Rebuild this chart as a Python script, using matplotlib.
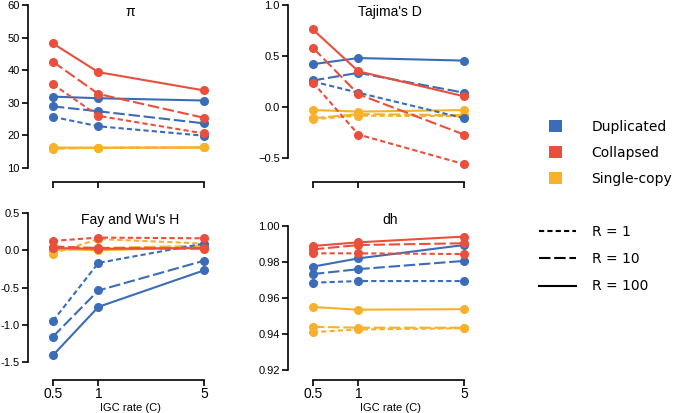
import numpy as np
import matplotlib
matplotlib.use('Agg')
import matplotlib.pyplot as plt
from matplotlib.patches import Patch
from matplotlib.lines import Line2D

plt.rcParams['font.family'] = ['Liberation Sans', 'DejaVu Sans']

igc_rate = [0.5, 1, 5]
r_values = [1, 10, 100]
groups = ['Duplicated', 'Collapsed', 'Single-copy']
colors = ['#3b6cb7', '#ea4f3b', '#f9b02a']
styles = [(0, (2.5, 1.5)), (0, (5.5, 1.8)), '-']

# each list: rows are R = 1, 10, 100 ; columns follow igc_rate
pi_dup = [[25.7, 22.8, 19.9], [28.9, 27.4, 23.7], [31.9, 31.4, 30.7]]
pi_col = [[35.7, 26.0, 20.6], [42.6, 32.7, 25.4], [48.2, 39.4, 33.8]]
pi_single = [[16.1, 16.2, 16.3], [15.9, 16.2, 16.3], [16.3, 16.2, 16.3]]

tajima_dup = [[0.25, 0.14, -0.11], [0.26, 0.335, 0.14], [0.42, 0.48, 0.455]]
tajima_col = [[0.24, -0.27, -0.56], [0.58, 0.125, -0.27], [0.76, 0.35, 0.105]]
tajima_single = [[-0.12, -0.085, -0.09], [-0.11, -0.07, -0.08], [-0.03, -0.045, -0.03]]

fay_dup = [[-0.95, -0.17, 0.09], [-1.16, -0.54, -0.14], [-1.41, -0.76, -0.27]]
fay_col = [[0.125, 0.17, 0.16], [0.05, 0.03, 0.02], [0.03, 0.02, 0.03]]
fay_single = [[-0.045, 0.15, 0.09], [0.0, 0.03, 0.06], [0.02, 0.0, 0.04]]

dh_dup = [[0.9685, 0.9694, 0.9694], [0.9733, 0.976, 0.9806], [0.9774, 0.982, 0.9894]]
dh_col = [[0.9848, 0.9848, 0.9844], [0.987, 0.9894, 0.9904], [0.9889, 0.9909, 0.9941]]
dh_single = [[0.941, 0.9425, 0.9432], [0.944, 0.9435, 0.9435], [0.955, 0.9535, 0.9538]]

W, H = 675, 413
fig = plt.figure(figsize=(W / 100, H / 100), dpi=100)


def px_box(l, t, r, b):
    return [l / W, 1 - b / H, (r - l) / W, (b - t) / H]


# title, data, ylim, yticks, label format, minus sign, box in pixels, bottom row
panels = [
    ('π', (pi_dup, pi_col, pi_single), (10, 60), np.arange(10, 61, 10), '%d', '\u2212', (28, 5, 232, 168), False),
    ("Tajima's D", (tajima_dup, tajima_col, tajima_single), (-0.598, 1.0), [-0.5, 0, 0.5, 1.0], '%.1f', '\u2212', (288, 5, 492, 168), False),
    ("Fay and Wu's H", (fay_dup, fay_col, fay_single), (-1.607, 0.5), [-1.5, -1.0, -0.5, 0, 0.5], '%.1f', '-', (28, 213, 232, 370), True),
    ('dh', (dh_dup, dh_col, dh_single), (0.92, 1.0072), [0.92, 0.94, 0.96, 0.98, 1.00], '%.2f', '\u2212', (288, 213, 492, 370), True),
]

draw_order = [2, 0, 1]

for title, data, ylim, yticks, fmt, minus, box, bottom in panels:
    ax = fig.add_axes(px_box(*box))
    for g in draw_order:
        for i in range(3):
            ax.plot(igc_rate, data[g][i], color=colors[g], linestyle=styles[i],
                    lw=1.5, marker='o', ms=5.5, clip_on=False)
    ax.set_xscale('log')
    ax.set_xlim(0.342, 7.67)
    ax.set_ylim(*ylim)
    ax.set_xticks(igc_rate)
    ax.minorticks_off()
    if bottom:
        ax.set_xticklabels(['0.5', '1', '5'], fontsize=8)
        ax.set_xlabel('IGC rate (C)', fontsize=8, labelpad=1.5)
        ax.spines['bottom'].set_position(('outward', 7))
    else:
        ax.set_xticklabels([])
        ax.spines['bottom'].set_position(('outward', 10))
    ax.set_yticks(yticks)
    ax.set_yticklabels([(fmt % v).replace('-', minus) for v in yticks], fontsize=8)
    for s in ['top', 'right']:
        ax.spines[s].set_visible(False)
    ax.spines['bottom'].set_bounds(0.5, 5)
    ax.spines['left'].set_bounds(yticks[0], yticks[-1])
    ax.spines['left'].set_linewidth(1.2)
    ax.spines['bottom'].set_linewidth(1.2)
    ax.tick_params(axis='y', width=1.2, length=4, pad=2)
    ax.tick_params(axis='x', width=1.2, length=4, pad=1.5)
    ax.patch.set_alpha(0)
    ax.text(0.5, 1 - 7 / (box[3] - box[1]), title, transform=ax.transAxes,
            ha='center', va='center', fontsize=10)

color_handles = [Patch(facecolor=c, edgecolor='none') for c in colors]
fig.legend(color_handles, groups, loc='upper left', bbox_to_anchor=(549 / W, 1 - 120 / H),
           frameon=False, prop={'family': 'DejaVu Sans', 'size': 10},
           handlelength=0.95, handleheight=0.95, handletextpad=2.1,
           labelspacing=0.85, borderpad=0, borderaxespad=0)
line_handles = [Line2D([], [], color='black', lw=1.5, linestyle=s) for s in styles]
fig.legend(line_handles, ['R = %d' % r for r in r_values], loc='upper left',
           bbox_to_anchor=(539 / W, 1 - 225 / H), frameon=False,
           prop={'family': 'DejaVu Sans', 'size': 10},
           handlelength=2.65, handletextpad=1.15, labelspacing=0.95,
           borderpad=0, borderaxespad=0)

fig.savefig('out.png', dpi=100)
